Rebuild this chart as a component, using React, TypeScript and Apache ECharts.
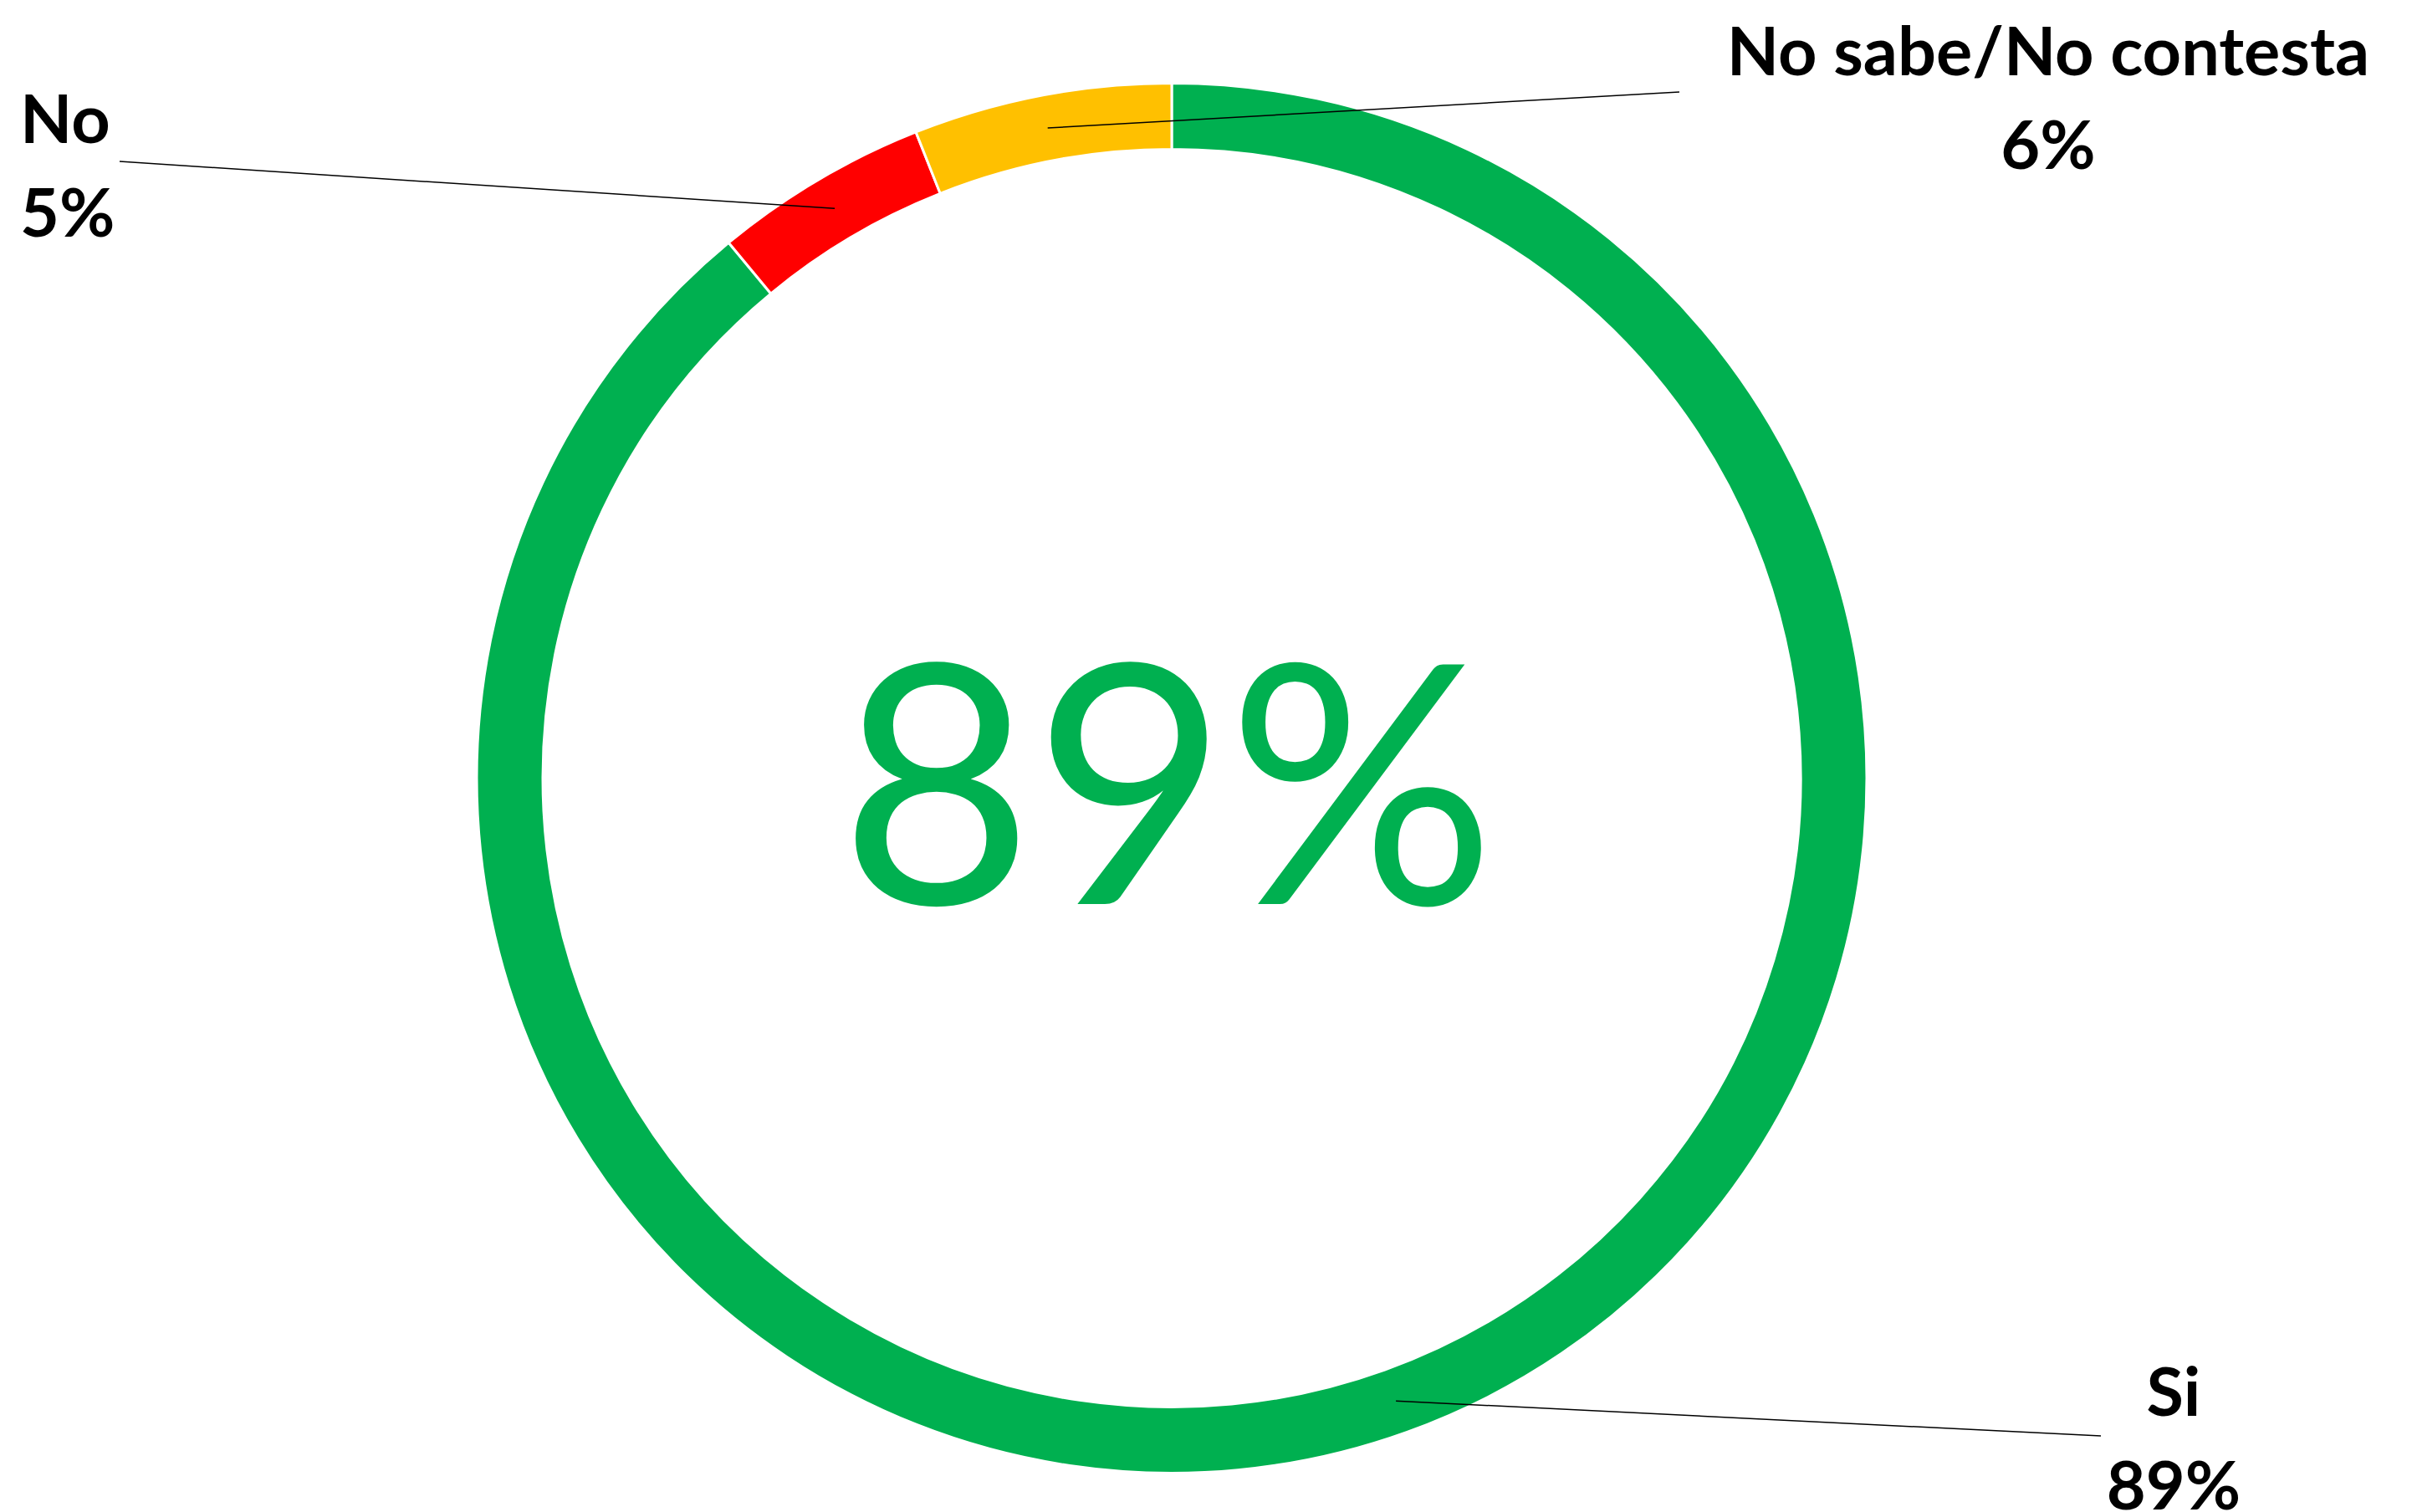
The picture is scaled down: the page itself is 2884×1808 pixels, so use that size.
import React, { useEffect, useRef } from 'react';
import * as echarts from 'echarts';

const categories = ['Si', 'No', 'No sabe/No contesta'];
const values = [89, 5, 6];
const colors = ['#00B050', '#FF0000', '#FFC000'];

// label placement (layout only)
const labelAnchors = [
  { x: 2599, y: 1717, align: 'center', lineEnd: [2512, 1717] },
  { x: 24, y: 195, align: 'left', lineEnd: [143, 193] },
  { x: 2449, y: 114, align: 'center', lineEnd: [2008, 110] },
];

const CENTER = [1401, 930.5];
const R_IN = 752;
const R_OUT = 831;

export default function App() {
  const ref = useRef<HTMLDivElement>(null);
  useEffect(() => {
    if (!ref.current) return;
    const chart = echarts.init(ref.current, null, { renderer: 'svg' });
    const data = categories.map((name, i) => ({ name, value: values[i], itemStyle: { color: colors[i] } }));
    chart.setOption({
      animation: false,
      backgroundColor: '#ffffff',
      series: [
        {
          type: 'pie',
          z: 2,
          center: CENTER,
          radius: [R_IN, R_OUT],
          startAngle: 90,
          clockwise: true,
          silent: true,
          avoidLabelOverlap: false,
          itemStyle: { borderColor: '#ffffff', borderWidth: 3 },
          label: { show: false },
          labelLine: { show: false },
          data,
        },
        {
          type: 'pie',
          z: 10,
          center: CENTER,
          radius: [0, (R_IN + R_OUT) / 2],
          startAngle: 90,
          clockwise: true,
          silent: true,
          avoidLabelOverlap: false,
          itemStyle: { color: 'rgba(0,0,0,0)', borderWidth: 0 },
          label: {
            show: true,
            position: 'outside',
            formatter: (p: any) => `${p.name}\n${p.value}%`,
            fontFamily: 'Lato',
            fontWeight: 'bold',
            fontSize: 81,
            lineHeight: 112,
            color: '#000000',
          },
          labelLine: { show: true, length: 20, length2: 20, lineStyle: { color: '#000000', width: 1.5 } },
          labelLayout: (params: any) => {
            const a = labelAnchors[params.dataIndex];
            const p0 = params.labelLinePoints ? params.labelLinePoints[0] : null;
            const res: any = { x: a.x, y: a.y, align: a.align, verticalAlign: 'middle' };
            if (p0) res.labelLinePoints = [p0, a.lineEnd];
            return res;
          },
          data: categories.map((name, i) => ({ name, value: values[i], itemStyle: { color: 'rgba(0,0,0,0)' } })),
        },
      ],
      graphic: [
        {
          type: 'text',
          x: 1396,
          y: 926,
          silent: true,
          style: {
            text: `${values[0]}%`,
            fontFamily: 'Lato',
            fontWeight: 'normal',
            fontSize: 400,
            fill: '#00B050',
            align: 'center',
            verticalAlign: 'middle',
          },
        },
      ],
    });
    return () => chart.dispose();
  }, []);
  return (
    <div
      ref={ref}
      style={{ position: 'absolute', left: 0, top: 0, width: 2884, height: 1808, background: '#fff' }}
    />
  );
}
